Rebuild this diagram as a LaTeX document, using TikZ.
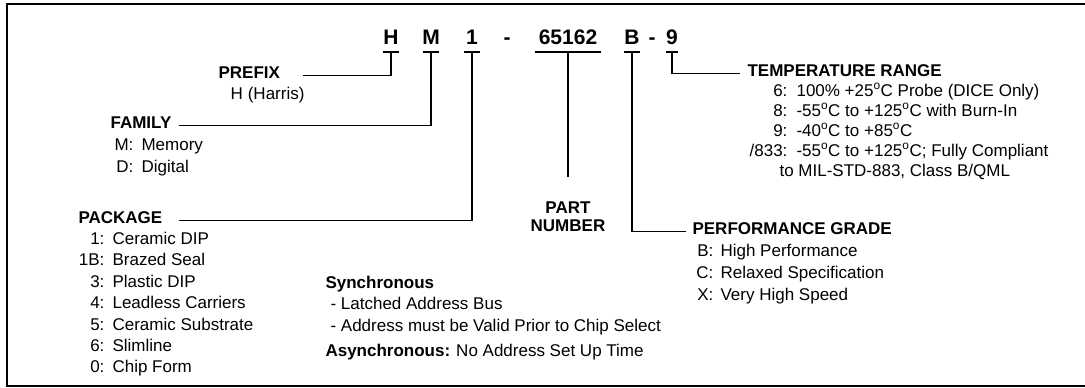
\documentclass[tikz,border=0pt]{standalone}
\usepackage{fontspec}
\setmainfont{Liberation Sans}
\usetikzlibrary{positioning}

\tikzset{
  code/.style={font=\fontsize{21}{25}\selectfont\bfseries, inner sep=0pt, anchor=base},
  head/.style={font=\fontsize{17}{20}\selectfont\bfseries, inner sep=0pt, anchor=base west},
  item/.style={font=\fontsize{17}{20}\selectfont, inner sep=0pt, anchor=base west},
  key/.style={font=\fontsize{17}{20}\selectfont, inner sep=0pt, anchor=base east},
}

\begin{document}
\begin{tikzpicture}[x=1pt,y=-1pt,line width=1.1pt]
  \useasboundingbox (0,0) rectangle (1085,388);

  % Frame, open on the right.
  \draw[line width=2pt] (1085,4) -- (7,4) -- (7,386) -- (1085,386);

  % The part number itself.
  \node[code] (cH) at (391,45) {H};
  \node[code] (cM) at (431,45) {M};
  \node[code] (cP) at (472,45) {1};
  \node[code] (cD1) at (507,45) {-};
  \node[code] (cN) at (568,45) {65162};
  \node[code] (cG) at (632,45) {B};
  \node[code] (cD2) at (652,45) {-};
  \node[code] (cT) at (672,45) {9};

  % Short bars under each field.
  \foreach \c/\w in {H/8pt,M/8pt,P/8pt,N/33pt,G/8pt,T/6pt} {
    \coordinate (u\c) at ([yshift=-7pt]c\c.base);
    \draw ([xshift=-\w]u\c) -- ([xshift=\w]u\c);
  }

  % Prefix.
  \node[head] (prefix) at (218,78) {PREFIX};
  \node[item] (harris) at (230,99) {H\hspace{5pt}(Harris)};
  \draw (uH) |- ([xshift=22pt]prefix.mid east);

  % Family.
  \node[head] (family) at (110,128) {FAMILY};
  \foreach \k/\t [count=\i] in {M/Memory, D/Digital} {
    \node[key] (fk\i) at (134,128+22*\i) {\k:};
    \node[item] (ft\i) at (141,128+22*\i) {\t};
  }
  \draw (uM) |- ([xshift=7pt]family.mid east);

  % Package.
  \node[head] (package) at (78,223) {PACKAGE};
  \foreach \k/\t [count=\i] in {1/Ceramic DIP, 1B/Brazed Seal, 3/Plastic DIP,
      4/Leadless Carriers, 5/Ceramic Substrate, 6/Slimline, 0/Chip Form} {
    \node[key] (pk\i) at (105,223+21.4*\i) {\k:};
    \node[item] (pt\i) at (112,223+21.4*\i) {\t};
  }
  \draw (uP) |- ([xshift=16pt]package.mid east);

  % Part number.
  \node[head,anchor=base] (part) at (568,213) {PART};
  \node[head,anchor=base] (number) at (568,231) {NUMBER};
  \draw (uN) -- ([yshift=24pt]part.north);

  % Performance grade.
  \node[head] (perf) at (692,234) {PERFORMANCE GRADE};
  \foreach \k/\t [count=\i] in {B/High Performance, C/Relaxed Specification,
      X/Very High Speed} {
    \node[key] (gk\i) at (714,234+22*\i) {\k:};
    \node[item] (gt\i) at (720,234+22*\i) {\t};
  }
  \draw (uG) |- ([xshift=-6pt]perf.mid west);

  % Temperature range.
  \node[head] (temp) at (747,76) {TEMPERATURE RANGE};
  \node[key] (tk1) at (788,96) {6:};
  \node[item] (tt1) at (796,96) {100\% +25\textsuperscript{o}C Probe (DICE Only)};
  \node[key] (tk2) at (788,116) {8:};
  \node[item] (tt2) at (796,116) {-55\textsuperscript{o}C to +125\textsuperscript{o}C with Burn-In};
  \node[key] (tk3) at (788,136) {9:};
  \node[item] (tt3) at (796,136) {-40\textsuperscript{o}C to +85\textsuperscript{o}C};
  \node[key] (tk4) at (788,156) {/833:};
  \node[item] (tt4) at (796,156) {-55\textsuperscript{o}C to +125\textsuperscript{o}C; Fully Compliant};
  \node[item] (tt5) at (779,176) {to MIL-STD-883, Class B/QML};
  \draw (uT) |- ([xshift=-7pt]temp.mid west);

  % Address timing notes.
  \node[head] (sync) at (325,288) {Synchronous};
  \node[item] (sync1) at (330,309) {- Latched Address Bus};
  \node[item] (sync2) at (330,331) {- Address must be Valid Prior to Chip Select};
  \node[item] (async) at (325,356) {\textbf{Asynchronous:}\hspace{6pt}No Address Set Up Time};
\end{tikzpicture}
\end{document}
